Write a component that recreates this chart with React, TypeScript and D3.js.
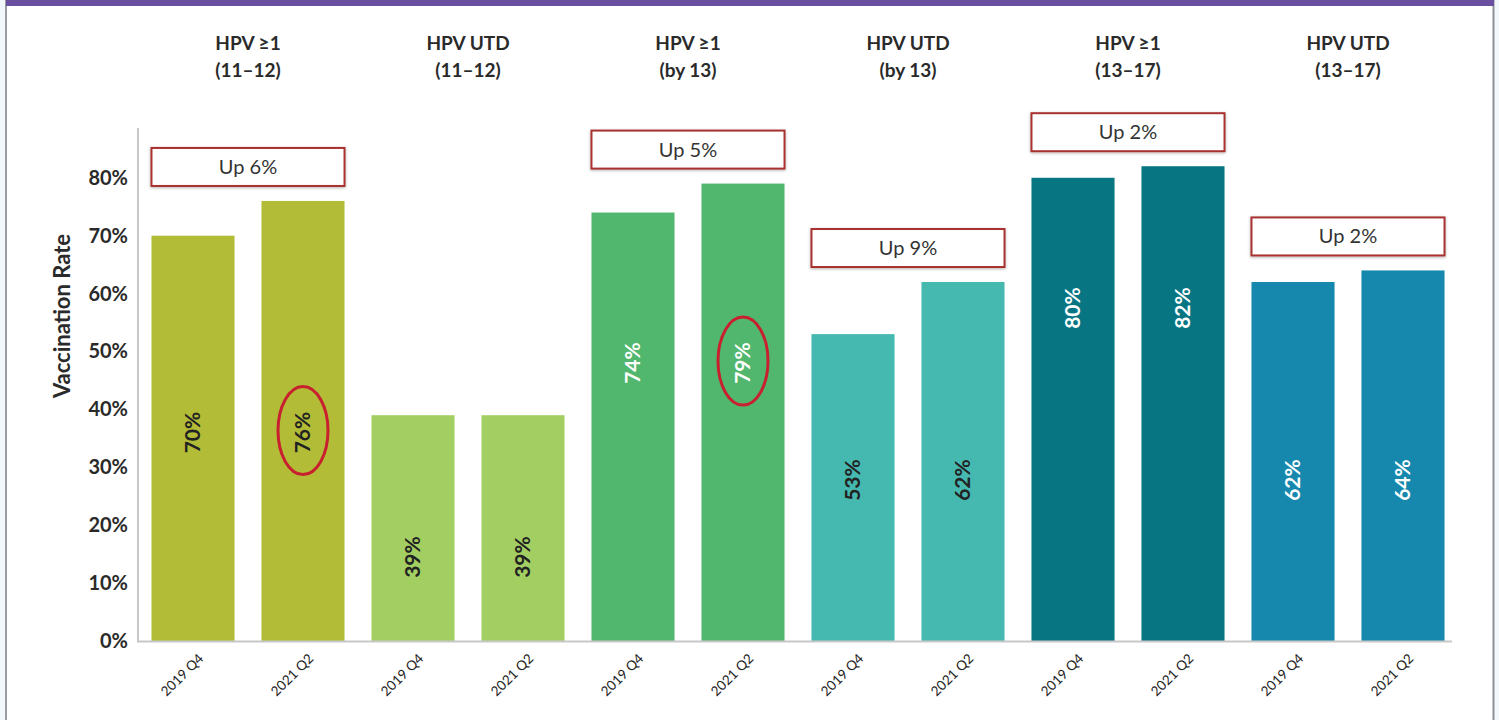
import React from "react";
import * as d3 from "d3";

const groupTitles = [
  ["HPV \u22651", "(11\u201312)"],
  ["HPV UTD", "(11\u201312)"],
  ["HPV \u22651", "(by 13)"],
  ["HPV UTD", "(by 13)"],
  ["HPV \u22651", "(13\u201317)"],
  ["HPV UTD", "(13\u201317)"],
];
const periods = ["2019 Q4", "2021 Q2"];
const values = [70, 76, 39, 39, 74, 79, 53, 62, 80, 82, 62, 64];
const groupColors = ["#b3bc37", "#a3ce62", "#52b76e", "#45b9b0", "#077582", "#1688ae"];
const labelColors = ["#222222", "#222222", "#ffffff", "#222222", "#ffffff", "#ffffff"];
// value-space anchor for the in-bar labels of each group
const labelAnchors = [36, 14.5, 48, 27.8, 57.5, 27.8];
const changeNotes = ["Up 6%", "", "Up 5%", "Up 9%", "Up 2%", "Up 2%"];
const circledBars = [1, 5];
const yTicks = [0, 10, 20, 30, 40, 50, 60, 70, 80];

const W = 1499;
const H = 720;
const FONT = "Lato, 'Open Sans', sans-serif";

export default function App() {
  const keys = values.map((_, i) => `b${i}`);
  const x = d3.scaleBand<string>().domain(keys).range([138, 1458]).paddingInner(0.245).paddingOuter(0.1225);
  const y = d3.scaleLinear().domain([0, 88.6]).range([641, 128]);
  const bw = x.bandwidth();

  return (
    <svg width={W} height={H} style={{ position: "absolute", left: 0, top: 0 }} fontFamily={FONT}>
      <defs>
        <filter id="shadow" x="-10%" y="-30%" width="120%" height="160%">
          <feDropShadow dx="0" dy="1" stdDeviation="1.5" floodColor="#000" floodOpacity="0.3" />
        </filter>
      </defs>
      <rect x={0} y={0} width={W} height={H} fill="#f2f7fc" />
      <rect x={6} y={0} width={1488} height={H} fill="#ffffff" />
      <line x1={6} x2={6} y1={0} y2={H} stroke="#9a9ca3" strokeWidth={2} />
      <line x1={1493.5} x2={1493.5} y1={0} y2={H} stroke="#8e9096" strokeWidth={2} />
      <rect x={6} y={0} width={1488} height={6} fill="#6a4fa0" />

      {/* group titles */}
      {groupTitles.map((t, g) => {
        const cx = (x(keys[g * 2])! + x(keys[g * 2 + 1])! + bw) / 2;
        return (
          <text key={g} x={cx} textAnchor="middle" fontWeight={700} fontSize={19} fill="#2a2a2a">
            <tspan x={cx} y={50}>{t[0]}</tspan>
            <tspan x={cx} y={77}>{t[1]}</tspan>
          </text>
        );
      })}

      {/* y axis */}
      <line x1={138} x2={138} y1={y(88.6)} y2={y(0)} stroke="#c8c8c8" strokeWidth={2} />
      {yTicks.map((t) => (
        <text key={t} x={128} y={y(t)} dy="0.35em" textAnchor="end" fontWeight={700} fontSize={20} fill="#2a2a2a">
          {t}%
        </text>
      ))}
      <text
        transform={`translate(70,316) rotate(-90)`}
        textAnchor="middle"
        fontWeight={700}
        fontSize={22}
        fill="#2a2a2a"
      >
        Vaccination Rate
      </text>

      {/* bars */}
      {values.map((v, i) => {
        const g = Math.floor(i / 2);
        return (
          <rect key={i} x={x(keys[i])} y={y(v)} width={bw} height={y(0) - y(v)} fill={groupColors[g]} />
        );
      })}
      <line x1={137} x2={1452} y1={y(0) + 0.5} y2={y(0) + 0.5} stroke="#c8c8c8" strokeWidth={2} />

      {/* in-bar labels */}
      {values.map((v, i) => {
        const g = Math.floor(i / 2);
        const cx = x(keys[i])! + bw / 2;
        const cy = y(labelAnchors[g]);
        return (
          <text
            key={i}
            transform={`translate(${cx},${cy}) rotate(-90)`}
            textAnchor="middle"
            dy="0.35em"
            fontWeight={700}
            fontSize={21}
            fill={labelColors[g]}
          >
            {v}%
          </text>
        );
      })}

      {/* highlight ellipses */}
      {circledBars.map((i) => {
        const g = Math.floor(i / 2);
        const cx = x(keys[i])! + bw / 2;
        const cy = y(labelAnchors[g]) - 2;
        return <ellipse key={i} cx={cx} cy={cy} rx={25} ry={44} fill="none" stroke="#c8202f" strokeWidth={3} />;
      })}

      {/* change notes */}
      {changeNotes.map((n, g) => {
        if (!n) return null;
        const x0 = x(keys[g * 2])!;
        const x1 = x(keys[g * 2 + 1])! + bw;
        const top = Math.max(values[g * 2], values[g * 2 + 1]);
        const bottom = y(top) - 15;
        return (
          <g key={g}>
            <rect
              x={x0}
              y={bottom - 38}
              width={x1 - x0}
              height={38}
              fill="#ffffff"
              stroke="#a8302f"
              strokeWidth={2}
              filter="url(#shadow)"
            />
            <text x={(x0 + x1) / 2} y={bottom - 19} dy="0.35em" textAnchor="middle" fontSize={20} fill="#333">
              {n}
            </text>
          </g>
        );
      })}

      {/* x tick labels */}
      {values.map((_, i) => {
        const cx = x(keys[i])! + bw / 2 + 8;
        return (
          <text
            key={i}
            transform={`translate(${cx},${656}) rotate(-45)`}
            textAnchor="end"
            dy="0.35em"
            fontSize={13.5}
            fill="#222"
          >
            {periods[i % 2]}
          </text>
        );
      })}
    </svg>
  );
}
